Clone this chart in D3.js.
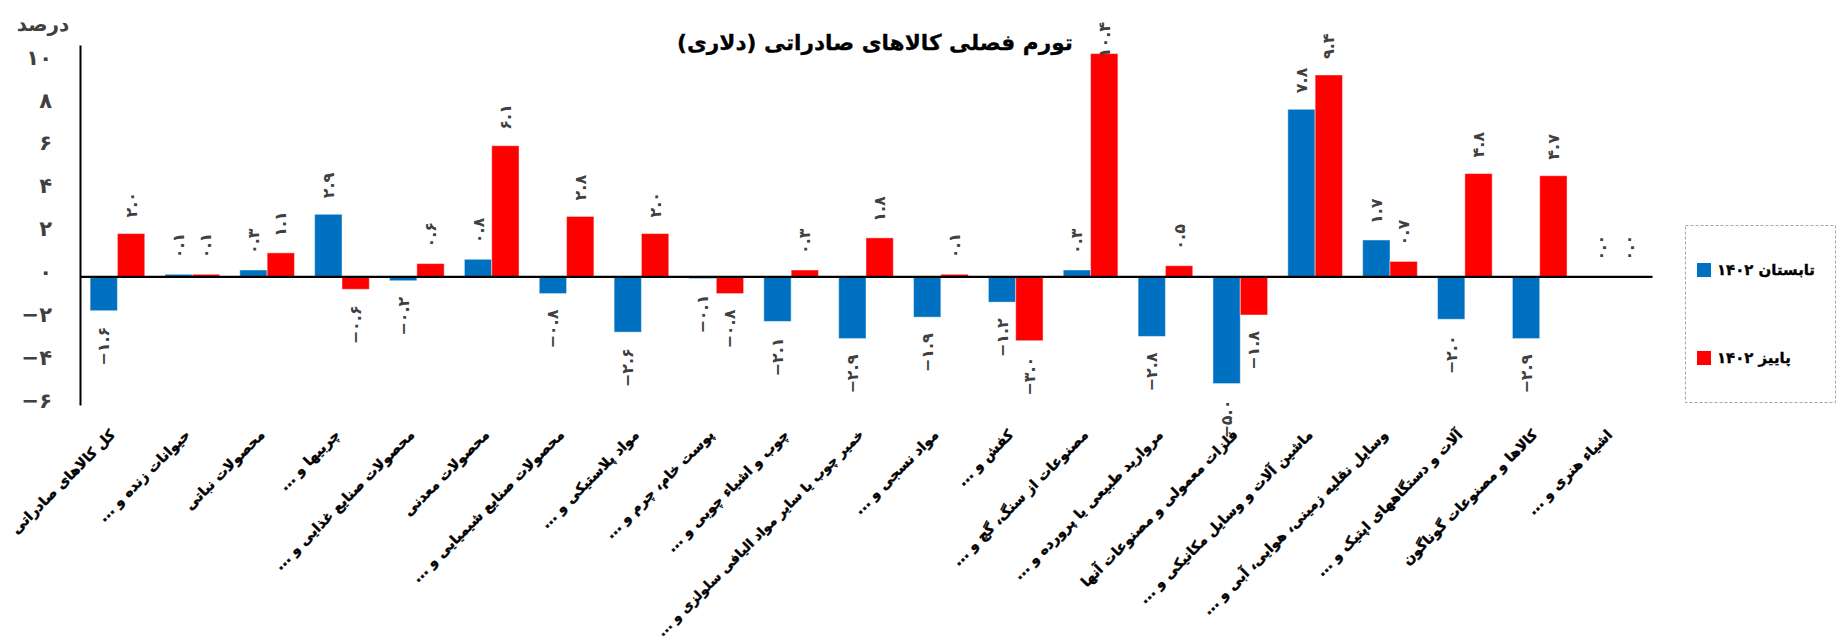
<!DOCTYPE html>
<html>
<head>
<meta charset="utf-8">
<script src="https://cdn.jsdelivr.net/npm/d3@7/dist/d3.min.js"></script>
<style>
  html, body { margin: 0; padding: 0; background: #fff; }
  svg { display: block; }
  text { font-family: "DejaVu Sans", sans-serif; }
</style>
</head>
<body>
<svg id="chart" width="1838" height="642"></svg>
<script>
const categories = [
  "کل کالاهای صادراتی",
  "حیوانات زنده و ...",
  "محصولات نباتی",
  "چربیها و ...",
  "محصولات صنایع غذایی و ...",
  "محصولات معدنی",
  "محصولات صنایع شیمیایی و ...",
  "مواد پلاستیکی و ...",
  "پوست خام، چرم و ...",
  "چوب و اشیاء چوبی و ...",
  "خمیر چوب یا سایر مواد الیافی سلولزی و ...",
  "مواد نسجی و ...",
  "کفش و ...",
  "مصنوعات از سنگ، گچ و ...",
  "مروارید طبیعی یا پرورده و ...",
  "فلزات معمولی و مصنوعات آنها",
  "ماشین آلات و وسایل مکانیکی و ...",
  "وسایل نقلیه زمینی، هوایی، آبی و ...",
  "آلات و دستگاههای اپتیک و ...",
  "کالاها و مصنوعات گوناگون",
  "اشیاء هنری و ..."
];
const summer1402 = [-1.6, 0.1, 0.3, 2.9, -0.2, 0.8, -0.8, -2.6, -0.1, -2.1, -2.9, -1.9, -1.2, 0.3, -2.8, -5.0, 7.8, 1.7, -2.0, -2.9, 0.0];
const autumn1402 = [2.0, 0.1, 1.1, -0.6, 0.6, 6.1, 2.8, 2.0, -0.8, 0.3, 1.8, 0.1, -3.0, 10.4, 0.5, -1.8, 9.4, 0.7, 4.8, 4.7, 0.0];
const seriesNames = ["تابستان ۱۴۰۲", "پاییز ۱۴۰۲"];
const seriesColors = ["#0070C0", "#FF0000"];
const yTicks = [-6, -4, -2, 0, 2, 4, 6, 8, 10];
const titleText = "تورم فصلی کالاهای صادراتی (دلاری)";
const yUnit = "درصد";

const faDigits = "۰۱۲۳۴۵۶۷۸۹";
const toFa = s => String(s).replace(/\d/g, d => faDigits[+d]).replace("-", "−");

// shrink/grow a text element's font so that its length matches a target width
function fitWidth(sel, target, base) {
  sel.attr("font-size", base);
  const L = sel.node().getComputedTextLength();
  if (L > 0) sel.attr("font-size", base * target / L);
  return +sel.attr("font-size");
}

const svg = d3.select("#chart");
const plotLeft = 80, plotRight = 1652, plotTop = 45, plotBottom = 405;

const y = d3.scaleLinear().domain([-6, 10.8]).range([plotBottom, plotTop]);
const x0 = d3.scaleBand().domain(d3.range(categories.length)).range([plotLeft, plotRight])
  .paddingInner(0.27).paddingOuter(0.135);
const x1 = d3.scaleBand().domain([0, 1]).range([0, x0.bandwidth()]);

const data = categories.map((c, i) => ({ i, name: c, vals: [summer1402[i], autumn1402[i]] }));

// bars
const groups = svg.append("g").selectAll("g").data(data).join("g")
  .attr("transform", d => `translate(${x0(d.i)},0)`);
groups.selectAll("rect").data(d => d.vals.map((v, s) => ({ v, s }))).join("rect")
  .attr("x", d => x1(d.s))
  .attr("width", x1.bandwidth())
  .attr("y", d => Math.min(y(d.v), y(0)))
  .attr("height", d => Math.abs(y(d.v) - y(0)))
  .attr("fill", d => seriesColors[d.s])
  .attr("stroke", "#ffffff").attr("stroke-opacity", 0.45).attr("stroke-width", 1);

// data labels
const gap = 16;
groups.selectAll("text.val").data(d => d.vals.map((v, s) => ({ v, s }))).join("text")
  .attr("class", "val")
  .attr("font-size", 16).attr("font-weight", "bold").attr("fill", "#404040")
  .attr("dominant-baseline", "central")
  .attr("text-anchor", d => d.v >= 0 ? "start" : "end")
  .text(d => toFa(d.v.toFixed(1)))
  .each(function(d) {
    const cx = x1(d.s) + x1.bandwidth() / 2;
    const L = this.getComputedTextLength();
    let ay;
    if (d.v >= 0) {
      ay = y(d.v) - gap;
      if (ay - L < 22) ay = 22 + L;
    } else {
      ay = y(d.v) + gap;
    }
    d3.select(this).attr("transform", `translate(${cx},${ay}) rotate(-90)`);
  });

// y axis
const yAxis = svg.append("g").attr("transform", `translate(${plotLeft},0)`)
  .call(d3.axisLeft(y).tickValues(yTicks).tickSize(0).tickPadding(28).tickFormat(toFa));
yAxis.select(".domain").attr("stroke", "#000").attr("stroke-width", 2);
yAxis.selectAll("text").attr("font-size", 21).attr("font-weight", "bold")
  .attr("fill", "#404040").attr("font-family", "DejaVu Sans").attr("dy", "0.1em");

// zero axis
const xAxis = svg.append("g").attr("transform", `translate(0,${y(0)})`)
  .call(d3.axisBottom(x0).tickSize(0).tickFormat(""));
xAxis.select(".domain").attr("stroke", "#000").attr("stroke-width", 2.2);

// category labels
const labelY = 432;
svg.append("g").selectAll("text").data(data).join("text")
  .attr("transform", d => `translate(${x0(d.i) + x0.bandwidth() / 2 - 5},${labelY}) rotate(-45)`)
  .attr("text-anchor", "end")
  .attr("dominant-baseline", "central")
  .attr("font-size", 14).attr("font-weight", "bold").attr("fill", "#000")
  .attr("stroke", "#000").attr("stroke-width", 0.4)
  .text(d => "\u200F" + d.name + "\u200F")
  .each(function() {
    const L = this.getComputedTextLength();
    const maxL = (634 - labelY) / Math.SQRT1_2;
    if (L > maxL) d3.select(this).attr("font-size", 14 * maxL / L);
  });

// title
const title = svg.append("text").attr("x", 875).attr("y", 42)
  .attr("text-anchor", "middle").attr("dominant-baseline", "central")
  .attr("font-weight", "bold").attr("fill", "#000")
  .attr("stroke", "#000").attr("stroke-width", 0.3)
  .text(titleText);
fitWidth(title, 396, 23);

// unit
svg.append("text").attr("x", 43).attr("y", 24)
  .attr("text-anchor", "middle").attr("dominant-baseline", "central")
  .attr("font-size", 20).attr("font-weight", "bold").attr("fill", "#404040")
  .text(yUnit);

// legend
const lg = svg.append("g");
lg.append("rect").attr("x", 1685.5).attr("y", 225.5).attr("width", 150).attr("height", 177)
  .attr("fill", "none").attr("stroke", "#A6A6A6").attr("stroke-width", 1).attr("stroke-dasharray", "3,2");
const legendY = [270, 358];
let legendFont = null;
seriesNames.forEach((nm, s) => {
  lg.append("rect").attr("x", 1697).attr("y", legendY[s] - 7).attr("width", 14).attr("height", 14)
    .attr("fill", seriesColors[s]);
  const t = lg.append("text").attr("x", 1717).attr("y", legendY[s])
    .attr("dominant-baseline", "central")
    .attr("font-weight", "bold").attr("fill", "#000")
    .attr("stroke", "#000").attr("stroke-width", 0.35)
    .text("\u200F" + nm);
  if (legendFont === null) legendFont = Math.min(fitWidth(t, 98, 16), 21);
  t.attr("font-size", legendFont);
});
</script>
</body>
</html>
